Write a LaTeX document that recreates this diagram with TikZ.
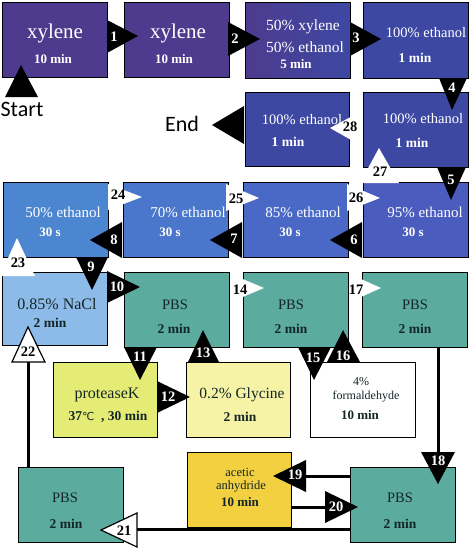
\documentclass[tikz,border=0pt]{standalone}
\usepackage{fontspec}
\setmainfont{Liberation Serif}
\newfontfamily\calfont{Carlito}
\newfontfamily\dvsfont{DejaVu Sans}
\definecolor{cpurple}{HTML}{4E3B8E}
\definecolor{cblue}{HTML}{3D48A3}
\definecolor{cninetyfive}{HTML}{4A5CBE}
\definecolor{ceightyfive}{HTML}{4A68C5}
\definecolor{cseventy}{HTML}{4A76CB}
\definecolor{cfifty}{HTML}{4D86D0}
\definecolor{clight}{HTML}{8DBBE9}
\definecolor{cteal}{HTML}{5BAB9F}
\definecolor{cyg}{HTML}{E4EC76}
\definecolor{cpale}{HTML}{F6F2A6}
\definecolor{cgold}{HTML}{F3D040}
\definecolor{cdark}{HTML}{142626}
\newcommand\fsz[1]{\fontsize{#1}{#1}\selectfont}
\begin{document}
\begin{tikzpicture}[x=1pt,y=-1pt,
  box/.style={draw=black, line width=1.2pt, anchor=north west, inner sep=0pt},
  conn/.style={line width=3pt},
  tw/.style={text=white, inner sep=0pt},
  tk/.style={text=cdark, inner sep=0pt},
  num/.style={text=white, inner sep=0pt, font=\bfseries\fsz{14.5}},
  numk/.style={text=black, inner sep=0pt, font=\bfseries\fsz{14.5}},
  wtri/.style={fill=white},
  wtrib/.style={fill=white, draw=black, line width=1.2pt, line join=miter},
]
\useasboundingbox (0,0) rectangle (473,550);
\fill[white] (0,0) rectangle (473,550);

% boxes
\node[box, fill=cpurple, minimum width=105pt, minimum height=75pt] (A) at (2,2) {};
\node[box, fill=cpurple, minimum width=105pt, minimum height=75pt] (B) at (124,2) {};
\node[box, left color=cpurple, right color=cblue, minimum width=105pt, minimum height=76pt] (C) at (245,2) {};
\node[box, fill=cblue, minimum width=105pt, minimum height=76pt] (D) at (363,2) {};
\node[box, fill=cblue, minimum width=104pt, minimum height=74pt] (E) at (245,92) {};
\node[box, fill=cblue, minimum width=105pt, minimum height=75pt] (F) at (363,92) {};
\node[box, fill=cfifty, minimum width=105pt, minimum height=75pt] (G) at (3,182) {};
\node[box, fill=cseventy, minimum width=105pt, minimum height=75pt] (H) at (123,182) {};
\node[box, fill=ceightyfive, minimum width=105pt, minimum height=75pt] (I) at (243,182) {};
\node[box, fill=cninetyfive, minimum width=105pt, minimum height=75pt] (J) at (363,182) {};
\node[box, fill=clight, minimum width=105pt, minimum height=73pt] (K) at (2,272) {};
\node[box, fill=cteal, minimum width=105pt, minimum height=75pt] (L) at (124,272) {};
\node[box, fill=cteal, minimum width=105pt, minimum height=75pt] (M) at (243,272) {};
\node[box, fill=cteal, minimum width=105pt, minimum height=75pt] (N) at (362,272) {};
\node[box, fill=cyg, minimum width=104pt, minimum height=75pt] (O) at (53,362) {};
\node[box, fill=cpale, minimum width=104pt, minimum height=75pt] (P) at (186,362) {};
\node[box, fill=white, minimum width=105pt, minimum height=75pt] (Q) at (310,362) {};
\node[box, fill=cgold, minimum width=104pt, minimum height=75pt] (R) at (187,452) {};
\node[box, fill=cteal, minimum width=105pt, minimum height=75pt] (S) at (350,467) {};
\node[box, fill=cteal, minimum width=105pt, minimum height=75pt] (T) at (18,467) {};

% box texts
\node[tw, font=\fsz{21}] (tA1) at (55,33) {xylene};
\node[tw, font=\bfseries\fsz{13}] (tA2) at (53,59) {10 min};
\node[tw, font=\fsz{21}] (tB1) at (178,33) {xylene};
\node[tw, font=\bfseries\fsz{13}] (tB2) at (174,59) {10 min};
\node[tw, font=\fsz{15.5}] (tC1) at (303,27) {50\% xylene};
\node[tw, font=\fsz{15.5}] (tC2) at (305,47) {50\% ethanol};
\node[tw, font=\bfseries\fsz{13}] (tC3) at (296,64) {5 min};
\node[tw, font=\fsz{14.5}] (tD1) at (426,33) {100\% ethanol};
\node[tw, font=\bfseries\fsz{13.5}] (tD2) at (415,58) {1 min};
\node[tw, font=\fsz{14.5}] (tE1) at (302,120) {100\% ethanol};
\node[tw, font=\bfseries\fsz{13.5}] (tE2) at (288,142) {1 min};
\node[tw, font=\fsz{14.5}] (tF1) at (423,119) {100\% ethanol};
\node[tw, font=\bfseries\fsz{13.5}] (tF2) at (412,143) {1 min};
\node[tw, font=\fsz{15}] (tG1) at (63,212) {50\% ethanol};
\node[tw, font=\bfseries\fsz{13}] (tG2) at (50,232) {30 s};
\node[tw, font=\fsz{15}] (tH1) at (188,212) {70\% ethanol};
\node[tw, font=\bfseries\fsz{13}] (tH2) at (170,232) {30 s};
\node[tw, font=\fsz{15}] (tI1) at (303,212) {85\% ethanol};
\node[tw, font=\bfseries\fsz{13}] (tI2) at (290,232) {30 s};
\node[tw, font=\fsz{15}] (tJ1) at (425,212) {95\% ethanol};
\node[tw, font=\bfseries\fsz{13}] (tJ2) at (413,232) {30 s};
\node[tk, font=\fsz{16}] (tK1) at (57,304) {0.85\% NaCl};
\node[tk, font=\bfseries\fsz{13.5}] (tK2) at (50,323) {2 min};
\node[tk, font=\fsz{14.5}] (tL1) at (175,305) {PBS};
\node[tk, font=\bfseries\fsz{13.5}] (tL2) at (174,329) {2 min};
\node[tk, font=\fsz{14.5}] (tM1) at (291,305) {PBS};
\node[tk, font=\bfseries\fsz{13.5}] (tM2) at (291,329) {2 min};
\node[tk, font=\fsz{14.5}] (tN1) at (415,305) {PBS};
\node[tk, font=\bfseries\fsz{13.5}] (tN2) at (415,329) {2 min};
\node[tk, font=\fsz{16}] (tO1) at (107,395) {proteaseK};
\node[tk, font=\bfseries\fsz{13.5}] (tO2) at (108,417) {37{\mdseries\dvsfont\fsz{11}℃}\ \ , 30 min};
\node[tk, font=\fsz{15.5}] (tP1) at (242,395) {0.2\% Glycine};
\node[tk, font=\bfseries\fsz{13.5}] (tP2) at (240,417) {2 min};
\node[tk, font=\fsz{12}] (tQ1) at (361,382) {4\%};
\node[tk, font=\fsz{12}] (tQ2) at (366,397) {formaldehyde};
\node[tk, font=\bfseries\fsz{13}] (tQ3) at (360,415) {10 min};
\node[tk, font=\fsz{12.5}] (tR1) at (240,472) {acetic};
\node[tk, font=\fsz{12.5}] (tR2) at (241,487) {anhydride};
\node[tk, font=\bfseries\fsz{13}] (tR3) at (240,502) {10 min};
\node[tk, font=\fsz{14.5}] (tS1) at (400,498) {PBS};
\node[tk, font=\bfseries\fsz{13.5}] (tS2) at (400,524) {2 min};
\node[tk, font=\fsz{14.5}] (tT1) at (65,498) {PBS};
\node[tk, font=\bfseries\fsz{13.5}] (tT2) at (66,524) {2 min};

% connector lines
\coordinate (c18) at (438,452);
\coordinate (c19) at (306,476);
\coordinate (c20) at (325,507);
\coordinate (c21) at (137,529);
\coordinate (c22) at (28,362);
\draw[conn] (c18 |- N.south) -- (c18);
\draw[conn] (S.west |- c19) -- (c19);
\draw[conn] (R.east |- c20) -- (c20);
\draw[conn] (S.west |- c21) -- (c21);
\draw[conn] (c22 |- T.north) -- (c22);

% black triangles
\fill[black] (107,20) -- (138,36) -- (107,53) -- cycle;
\fill[black] (228,22) -- (260,39) -- (228,56) -- cycle;
\fill[black] (350,22) -- (381,39) -- (350,56) -- cycle;
\fill[black] (439,78) -- (452,110) -- (467,78) -- cycle;
\fill[black] (437,167) -- (451,200) -- (466,167) -- cycle;
\fill[black] (5,97) -- (21,65) -- (38,97) -- cycle;
\fill[black] (244,106) -- (212,125) -- (244,144) -- cycle;
\fill[black] (362,222) -- (330,240) -- (362,258) -- cycle;
\fill[black] (242,222) -- (210,240) -- (242,258) -- cycle;
\fill[black] (122,222) -- (90,240) -- (122,258) -- cycle;
\fill[black] (76,257) -- (92,290) -- (108,257) -- cycle;
\fill[black] (107,271) -- (140,287) -- (107,303) -- cycle;
\fill[black] (124,347) -- (140,380) -- (157,347) -- cycle;
\fill[black] (188,362) -- (203,330) -- (219,362) -- cycle;
\fill[black] (157,381) -- (190,397) -- (157,413) -- cycle;
\fill[black] (298,347) -- (314,380) -- (331,347) -- cycle;
\fill[black] (327,362) -- (343,330) -- (360,362) -- cycle;
\fill[black] (421,452) -- (438,484) -- (455,452) -- cycle;
\fill[black] (306,460) -- (273,476) -- (306,492) -- cycle;
\fill[black] (325,491) -- (358,507) -- (325,523) -- cycle;

% white triangles
\fill[wtri] (360,112) -- (330,128) -- (360,145) -- cycle;
\fill[wtri] (360,183) -- (379,148) -- (399,183) -- cycle;
\fill[wtri] (108,184) -- (142,197) -- (108,210) -- cycle;
\fill[wtri] (226,184) -- (259,198) -- (226,211) -- cycle;
\fill[wtri] (347,184) -- (380,198) -- (347,211) -- cycle;
\fill[wtri] (0,276) -- (17,238) -- (35,276) -- cycle;
\fill[wtri] (231,274) -- (264,288) -- (231,302) -- cycle;
\fill[wtri] (350,274) -- (381,288) -- (350,302) -- cycle;
\filldraw[wtrib] (137,513) -- (101,530) -- (137,547) -- cycle;
\filldraw[wtrib] (12,362) -- (28,327) -- (45,362) -- cycle;

% numbers
\node[num] (n1) at (114,37) {1};
\node[num] (n2) at (235,39) {2};
\node[num] (n3) at (356,38) {3};
\node[num] (n4) at (452,88) {4};
\node[num] (n5) at (451,180) {5};
\node[num] (n6) at (354,240) {6};
\node[num] (n7) at (234,239) {7};
\node[num] (n8) at (114,240) {8};
\node[num] (n9) at (91,267) {9};
\node[num] (n10) at (117,287) {10};
\node[num] (n11) at (140,357) {11};
\node[num] (n12) at (168,397) {12};
\node[num] (n13) at (203,353) {13};
\node[num] (n15) at (313,358) {15};
\node[num] (n16) at (343,356) {16};
\node[num] (n18) at (438,461) {18};
\node[num] (n19) at (295,475) {19};
\node[num] (n20) at (336,507) {20};
\node[numk] (n14) at (240,290) {14};
\node[numk] (n17) at (356,290) {17};
\node[numk] (n21) at (124,531) {21};
\node[numk] (n22) at (28,352) {22};
\node[numk] (n23) at (18,263) {23};
\node[numk] (n24) at (118,195) {24};
\node[numk] (n25) at (236,199) {25};
\node[numk] (n26) at (356,198) {26};
\node[numk] (n27) at (380,172) {27};
\node[numk] (n28) at (350,127) {28};

% start / end
\node[inner sep=0pt, font=\calfont\fsz{22}] (start) at (22,109) {Start};
\node[inner sep=0pt, font=\calfont\fsz{22}] (end) at (182,124) {End};
\end{tikzpicture}
\end{document}
